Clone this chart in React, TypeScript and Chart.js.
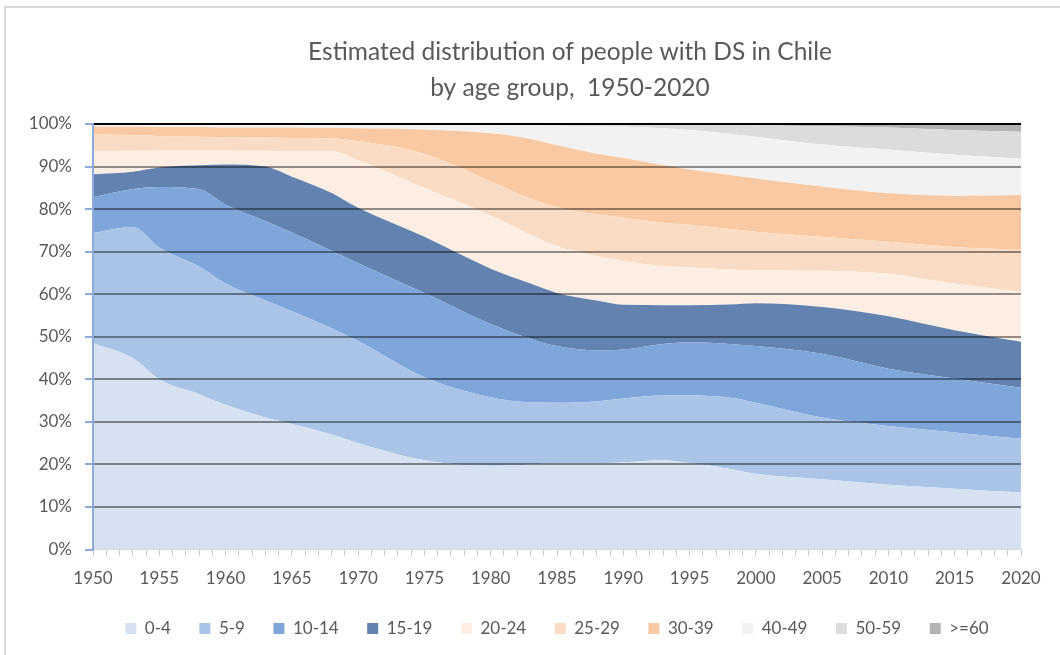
import React, { useEffect, useRef } from 'react';
import { Chart, registerables } from 'chart.js';

Chart.register(...registerables);

const titleLines = ['Estimated distribution of people with DS in Chile', 'by age group,  1950-2020'];

const years = [1950, 1953, 1955, 1958, 1960, 1963, 1965, 1968, 1970, 1975, 1980, 1983, 1985, 1988, 1990, 1993, 1995, 1998, 2000, 2005, 2010, 2015, 2020];

const age0_4 = [48.5, 45, 40, 36.5, 34, 31, 29.5, 27, 25, 21, 19.7, 20, 20.2, 20.2, 20.5, 21, 20.3, 19, 17.8, 16.5, 15.2, 14.3, 13.4];
const age5_9 = [25.9, 30.8, 31, 30, 28.5, 27.5, 26.5, 25, 24, 19.5, 16.1, 14.6, 14.3, 14.6, 15.0, 15.2, 15.9, 16.7, 16.7, 14.5, 13.8, 13.2, 12.6];
const age10_14 = [8.4, 8.9, 14.2, 18.2, 18.5, 18.7, 18.5, 18.2, 18.3, 19.8, 17.2, 14.9, 13.3, 12.0, 11.5, 12.1, 12.5, 12.6, 13.3, 15.0, 13.5, 12.7, 12.0];
const age15_19 = [5.4, 4.1, 4.6, 5.6, 9.5, 12.8, 13.1, 13.6, 13.0, 13.2, 13.0, 13.0, 12.5, 11.7, 10.5, 9.1, 8.7, 9.3, 10.1, 11.0, 12.3, 11.3, 10.8];
const age20_24 = [5.4, 4.9, 4.0, 3.5, 3.3, 3.7, 6.0, 9.8, 11.2, 11.5, 12.5, 11.5, 11.0, 10.5, 10.3, 9.2, 8.9, 8.2, 7.7, 8.5, 10.0, 11.0, 11.7];
const age25_29 = [4.0, 3.7, 3.4, 3.2, 3.1, 3.1, 3.1, 3.0, 4.5, 8.0, 8.0, 8.5, 9.2, 9.8, 10.2, 10.2, 10.0, 9.5, 9.1, 8.0, 7.5, 8.6, 9.9];
const age30_39 = [1.8, 2.0, 2.1, 2.3, 2.3, 2.4, 2.5, 2.5, 3.0, 5.7, 11.3, 14.0, 14.5, 14.2, 14.0, 13.5, 13.0, 12.7, 12.5, 11.8, 11.4, 12.0, 12.9];
const age40_49 = [0.4, 0.4, 0.5, 0.5, 0.6, 0.6, 0.6, 0.7, 0.8, 1.1, 1.9, 3.2, 4.6, 6.5, 7.4, 8.7, 9.3, 9.7, 9.8, 9.9, 10.3, 9.7, 8.6];
const age50_59 = [0.15, 0.15, 0.15, 0.15, 0.15, 0.15, 0.15, 0.15, 0.15, 0.15, 0.25, 0.25, 0.35, 0.45, 0.55, 0.9, 1.2, 2.05, 2.7, 4.3, 5.2, 5.8, 6.3];
const age60plus = [0.05, 0.05, 0.05, 0.05, 0.05, 0.05, 0.05, 0.05, 0.05, 0.05, 0.05, 0.05, 0.05, 0.05, 0.05, 0.1, 0.2, 0.25, 0.3, 0.5, 0.8, 1.4, 1.8];

const seriesLabels = ['0-4', '5-9', '10-14', '15-19', '20-24', '25-29', '30-39', '40-49', '50-59', '>=60'];
const seriesValues = [age0_4, age5_9, age10_14, age15_19, age20_24, age25_29, age30_39, age40_49, age50_59, age60plus];
const seriesColors = ['#d6e1f2', '#a9c4e6', '#7fa6da', '#6283b0', '#fdeee3', '#fadcc4', '#f8c9a3', '#f2f2f2', '#dcdcdc', '#b3b3b3'];

const FONT = 'Lato, "Open Sans", sans-serif';
const TEXT = '#595959';

const titlePlugin = {
  id: 'twoLineTitle',
  afterDraw(chart: any) {
    const { ctx, chartArea } = chart;
    ctx.save();
    ctx.fillStyle = TEXT;
    ctx.font = `24.5px ${FONT}`;
    ctx.textAlign = 'center';
    ctx.textBaseline = 'alphabetic';
    const cx = (chartArea.left + chartArea.right) / 2 + 13;
    titleLines.forEach((t, i) => ctx.fillText(t, cx, 60 + i * 36));
    ctx.restore();
  },
};

export default function App() {
  const ref = useRef<HTMLCanvasElement | null>(null);

  useEffect(() => {
    if (!ref.current) return;
    const datasets = seriesLabels.map((label, i) => ({
      label,
      data: years.map((y, j) => ({ x: y, y: seriesValues[i][j] })),
      backgroundColor: seriesColors[i],
      borderColor: seriesColors[i],
      borderWidth: 0,
      pointRadius: 0,
      fill: i === 0 ? 'origin' : '-1',
      cubicInterpolationMode: 'monotone' as const,
    }));

    const chart = new Chart(ref.current, {
      type: 'line',
      data: { datasets },
      plugins: [titlePlugin],
      options: {
        animation: false,
        responsive: false,
        layout: { padding: { top: 124, right: 39, left: 0, bottom: 8 } },
        plugins: {
          title: { display: false },
          tooltip: { enabled: false },
          legend: {
            position: 'bottom',
            fullSize: false,
            labels: {
              boxWidth: 11,
              boxHeight: 11,
              padding: 28.5,
              color: TEXT,
              font: { family: FONT, size: 17 },
            },
          },
        },
        scales: {
          x: {
            type: 'linear',
            min: 1950,
            max: 2020,
            afterFit: (s: any) => { s.height = 42; },
            grid: { drawOnChartArea: false, drawTicks: true, tickLength: 6, color: '#c8c8c8' },
            border: { display: true, color: '#d9d9d9' },
            ticks: {
              stepSize: 1,
              autoSkip: false,
              maxRotation: 0,
              padding: 13,
              color: TEXT,
              font: { family: FONT, size: 17 },
              callback: (v: any) => (Number(v) % 5 === 0 ? String(v) : ''),
            },
          },
          y: {
            stacked: true,
            min: 0,
            max: 100,
            afterFit: (s: any) => { s.width = 93; },
            border: { display: true, color: '#8eaadb', width: 2, z: 2 },
            grid: {
              z: 1,
              color: (c: any) => (c.tick.value === 100 ? '#000000' : c.tick.value === 0 ? 'rgba(0,0,0,0)' : 'rgba(0,0,0,0.42)'),
              lineWidth: 2,
              tickColor: '#8eaadb',
              tickLength: 8,
            },
            ticks: {
              stepSize: 10,
              padding: 13,
              color: TEXT,
              font: { family: FONT, size: 17 },
              callback: (v: any) => `${v}%`,
            },
          },
        },
      },
    });
    return () => chart.destroy();
  }, []);

  return (
    <div style={{ position: 'absolute', left: 0, top: 0, width: 1060, height: 655, background: '#ffffff' }}>
      <div style={{ position: 'absolute', left: 4, top: 6, width: 1070, height: 660, borderTop: '2px solid #d9d9d9', borderLeft: '2px solid #d9d9d9' }} />
      <canvas ref={ref} width={1060} height={655} style={{ position: 'absolute', left: 0, top: 0 }} />
    </div>
  );
}
